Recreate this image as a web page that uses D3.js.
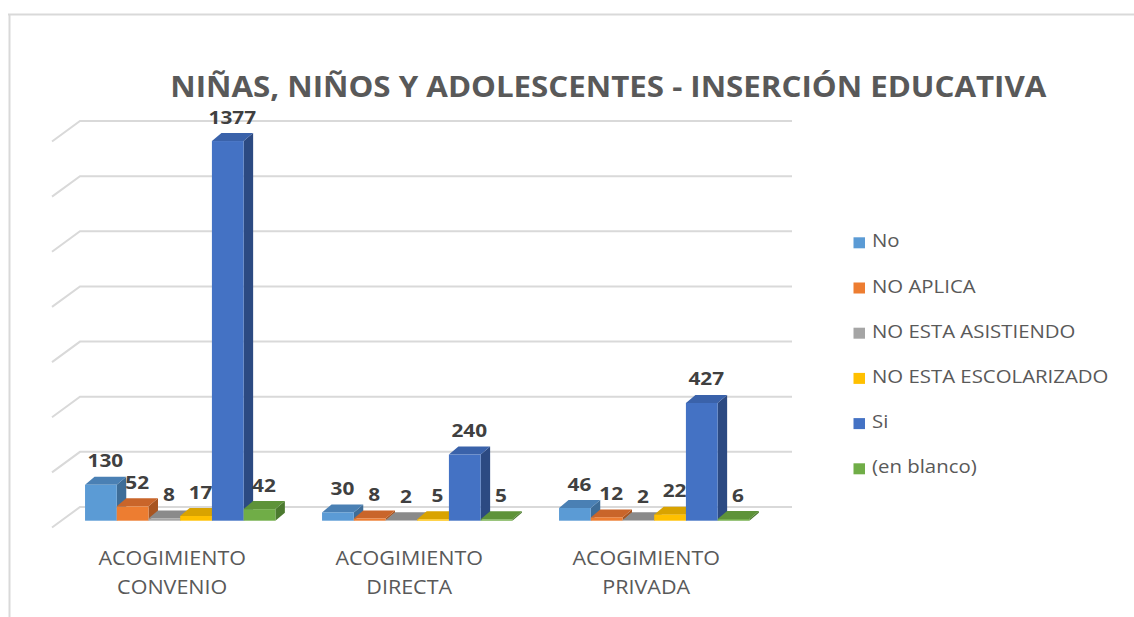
<!DOCTYPE html>
<html>
<head>
<meta charset="utf-8">
<script src="https://cdn.jsdelivr.net/npm/d3@7"></script>
<style>
  html, body { margin: 0; padding: 0; background: #fff; }
  svg { display: block; }
  text { font-family: "Open Sans", "Noto Sans", sans-serif; }
</style>
</head>
<body>
<svg id="chart" width="1134" height="617"></svg>
<script>
const title = "NIÑAS, NIÑOS Y ADOLESCENTES - INSERCIÓN EDUCATIVA";
const categories = ["ACOGIMIENTO CONVENIO", "ACOGIMIENTO DIRECTA", "ACOGIMIENTO PRIVADA"];
const categoryLines = [["ACOGIMIENTO", "CONVENIO"], ["ACOGIMIENTO", "DIRECTA"], ["ACOGIMIENTO", "PRIVADA"]];
const seriesNames = ["No", "NO APLICA", "NO ESTA ASISTIENDO", "NO ESTA ESCOLARIZADO", "Si", "(en blanco)"];
const valuesNo = [130, 30, 46];
const valuesNoAplica = [52, 8, 12];
const valuesNoAsistiendo = [8, 2, 2];
const valuesNoEscolarizado = [17, 5, 22];
const valuesSi = [1377, 240, 427];
const valuesEnBlanco = [42, 5, 6];
const tickValues = [0, 200, 400, 600, 800, 1000, 1200, 1400];

const seriesValues = [valuesNo, valuesNoAplica, valuesNoAsistiendo, valuesNoEscolarizado, valuesSi, valuesEnBlanco];
const frontColors = ["#5b9bd5", "#ed7d31", "#a5a5a5", "#ffc000", "#4472c4", "#70ad47"];
const topColors   = ["#4a80b4", "#c9652a", "#8a8a8a", "#d9a300", "#3a62aa", "#5e9339"];
const sideColors  = ["#3e6d98", "#a85521", "#757575", "#b88b00", "#2c4a82", "#4c7a2f"];

const svg = d3.select("#chart");

// frame
svg.append("line").attr("x1", 8).attr("y1", 14.5).attr("x2", 1134).attr("y2", 14.5)
  .attr("stroke", "#d9d9d9").attr("stroke-width", 2);
svg.append("line").attr("x1", 9.5).attr("y1", 14).attr("x2", 9.5).attr("y2", 617)
  .attr("stroke", "#d9d9d9").attr("stroke-width", 2);

// scales
const yBack = d3.scaleLinear().domain([0, 1400]).range([507, 121]);
const frontOffset = 13.7;
const yFront = v => yBack(v) + frontOffset;
const x0 = d3.scaleBand().domain(categories).range([61.7, 772.7]).paddingInner(0.197).paddingOuter(0.0985);
const x1 = d3.scaleBand().domain(seriesNames).range([0, x0.bandwidth()]);
const dx = 9.5, dy = -8;

// gridlines (back wall + side floor perspective)
const grid = svg.append("g");
tickValues.forEach(t => {
  grid.append("path")
    .attr("d", `M52,${yBack(t) + 20.5} L80,${yBack(t)} L792,${yBack(t)}`)
    .attr("fill", "none").attr("stroke", "#d9d9d9").attr("stroke-width", 2);
});

// bars
const barsG = svg.append("g");
categories.forEach((cat, ci) => {
  seriesNames.forEach((s, si) => {
    const v = seriesValues[si][ci];
    const xl = x0(cat) + x1(s);
    const w = x1.bandwidth();
    const yt = yFront(v), yb = yFront(0);
    const g = barsG.append("g");
    g.append("path")
      .attr("d", `M${xl + w},${yt} L${xl + w + dx},${yt + dy} L${xl + w + dx},${yb + dy} L${xl + w},${yb} Z`)
      .attr("fill", sideColors[si]);
    g.append("path")
      .attr("d", `M${xl},${yt} L${xl + dx},${yt + dy} L${xl + w + dx},${yt + dy} L${xl + w},${yt} Z`)
      .attr("fill", topColors[si]);
    g.append("rect")
      .attr("x", xl).attr("y", yt).attr("width", w).attr("height", Math.max(0, yb - yt))
      .attr("fill", frontColors[si]);
  });
});

// data labels
const labelsG = svg.append("g");
const lbls = [];
categories.forEach((cat, ci) => {
  seriesNames.forEach((s, si) => {
    const v = seriesValues[si][ci];
    const cx = x0(cat) + x1(s) + x1.bandwidth() / 2 + 4.5;
    const t = labelsG.append("text")
      .attr("text-anchor", "middle")
      .attr("font-size", 17.5).attr("font-weight", "bold").attr("fill", "#404040")
      .text(v);
    lbls.push({ t, cx, cy: yFront(v) - 17.5 });
  });
});
const kLbl = 35.7 / lbls[0].t.node().getComputedTextLength();
lbls.forEach(({ t, cx, cy }) => t.attr("transform", `translate(${cx},${cy}) scale(${kLbl},1)`));

// category labels
const catG = svg.append("g");
const catTexts = [];
categories.forEach((cat, ci) => {
  const cx = x0(cat) + x0.bandwidth() / 2 - 8;
  categoryLines[ci].forEach((line, li) => {
    const t = catG.append("text").attr("text-anchor", "middle")
      .attr("font-size", 20).attr("fill", "#595959").text(line);
    catTexts.push({ t, cx, cy: li === 0 ? 564.5 : 594 });
  });
});
const kCat = 147.7 / catTexts[0].t.node().getComputedTextLength();
catTexts.forEach(({ t, cx, cy }) => t.attr("transform", `translate(${cx},${cy}) scale(${kCat},1)`));

// title
const titleT = svg.append("text").attr("text-anchor", "middle")
  .attr("font-size", 28.5).attr("font-weight", "bold").attr("fill", "#595959").text(title);
const kTitle = 876.7 / titleT.node().getComputedTextLength();
titleT.attr("transform", `translate(608.3,97) scale(${kTitle},1)`);

// legend
const legG = svg.append("g");
const legTexts = [];
seriesNames.forEach((s, si) => {
  const by = 247.3 + si * 45.2;
  legG.append("rect").attr("x", 853.5).attr("y", by - 10).attr("width", 11.5).attr("height", 11)
    .attr("fill", frontColors[si]);
  const t = legG.append("text").attr("font-size", 18.5).attr("fill", "#595959").text(s);
  legTexts.push({ t, by });
});
const kLeg = 236.6 / legTexts[3].t.node().getComputedTextLength();
legTexts.forEach(({ t, by }) => t.attr("transform", `translate(872,${by}) scale(${kLeg},1)`));
</script>
</body>
</html>
